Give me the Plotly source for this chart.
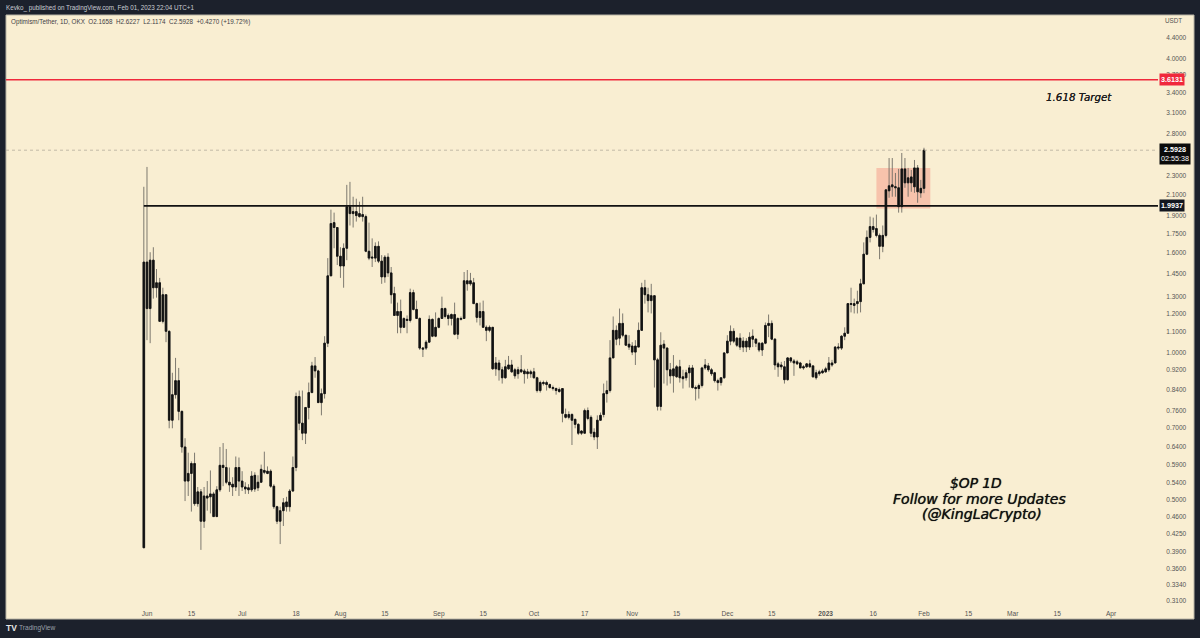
import math
import pandas as pd
import plotly.graph_objects as go

first_day = "2022-05-31"
opens = [.398,1.53,1.229,1.544,1.356,1.388,1.157,1.312,1.104,.726,
 .819,.875,.757,.64,.545,.565,.592,.49,.518,.451,
 .508,.506,.513,.461,.523,.587,.581,.542,.537,.53,
 .581,.545,.53,.528,.523,.56,.542,.542,.573,.565,
 .571,.532,.483,.451,.474,.494,.483,.52,.581,.812,
 .716,.683,.771,.827,.938,.916,.789,.823,1.044,1.434,
 1.843,1.801,1.573,1.502,1.633,1.987,1.923,1.941,1.923,1.914,
 1.896,1.61,1.566,1.559,1.648,1.537,1.427,1.566,1.454,1.319,
 1.19,1.212,1.125,1.168,1.162,1.325,1.224,1.173,1.02,1.02,
 1.049,1.168,1.079,1.125,1.173,1.229,1.19,1.173,1.195,1.089,
 1.173,1.173,1.401,1.381,1.388,1.258,1.179,1.212,1.125,1.109,
 1.125,.925,.951,.921,.887,.925,.942,.921,.904,.921,
 .916,.912,.904,.912,.887,.835,.867,.867,.859,.847,
 .843,.839,.843,.746,.736,.746,.729,.712,.683,.683,
 .76,.736,.686,.671,.726,.746,.823,.835,.974,1.109,
 1.069,1.146,1.084,1.039,1.03,1.001,1.025,1.109,1.356,1.312,
 1.276,1.306,.965,.775,1.039,1.02,.921,.895,.891,.934,
 .891,.887,.908,.929,.847,.843,.855,.929,.938,.921,
 .908,.875,.867,.887,.997,1.054,1.104,1.069,1.025,1.054,
 1.025,1.025,1.064,1.064,1.044,1.011,1.044,1.135,1.146,1.064,
 .947,.942,.934,.879,.974,.96,.956,.951,.934,.934,
 .947,.938,.887,.904,.908,.912,.921,.951,.951,1.025,
 1.02,1.079,1.094,1.258,1.258,1.258,1.27,1.381,1.588,1.719,
 1.809,1.792,1.735,1.648,1.735,2.141,2.202,2.182,2.172,1.987,
 2.374,2.223,2.286,2.182,2.385,2.121,2.1658]
highs = [2.182,2.396,1.603,1.641,1.481,1.42,1.356,1.312,1.109,.908,
 .974,.929,.76,.667,.623,.598,.623,.53,.525,.53,
 .545,.573,.518,.532,.64,.652,.634,.581,.555,.612,
 .609,.571,.542,.537,.571,.568,.56,.589,.626,.584,
 .576,.537,.485,.483,.503,.506,.525,.612,.827,.835,
 .835,.771,.867,.956,.978,.921,.843,1.079,1.559,1.959,
 1.932,1.801,1.641,1.671,2.202,2.233,2.082,2.063,2.034,2.082,
 1.914,1.843,1.711,1.679,1.687,1.581,1.581,1.595,1.495,1.362,
 1.264,1.282,1.179,1.19,1.35,1.343,1.276,1.179,1.025,1.059,
 1.19,1.173,1.207,1.179,1.3,1.235,1.201,1.201,1.264,1.179,
 1.184,1.46,1.474,1.454,1.42,1.264,1.264,1.276,1.135,1.135,
 1.125,.978,.965,.934,.965,.983,.965,.929,.934,.987,
 .925,.925,.921,.929,.891,.875,.875,.875,.863,.855,
 .847,.847,.843,.767,.757,.75,.732,.716,.693,.767,
 .771,.743,.699,.743,.753,.863,.875,1.059,1.184,1.135,
 1.229,1.201,1.084,1.084,1.049,1.059,1.151,1.388,1.407,1.356,
 1.381,1.306,.974,1.099,1.059,1.025,.951,.987,.942,.965,
 .921,.921,.942,.942,.855,.863,.934,.969,.951,.929,
 .912,.883,.887,1.001,1.084,1.135,1.12,1.074,1.094,1.074,
 1.069,1.099,1.114,1.069,1.049,1.049,1.151,1.195,1.162,1.069,
 .956,.956,.96,.978,.978,.969,.965,.956,.942,.951,
 .965,.942,.921,.921,.925,.934,.978,.965,1.03,1.044,
 1.084,1.125,1.258,1.356,1.288,1.337,1.414,1.679,1.776,1.896,
 1.887,1.914,1.751,1.818,2.151,2.499,2.499,2.329,2.374,2.559,
 2.499,2.385,2.362,2.476,2.418,2.254,2.6227]
lows = [.398,1.059,1.044,1.288,1.294,1.157,1.146,1.049,.699,.699,
 .804,.726,.623,.496,.508,.472,.485,.483,.394,.437,
 .474,.468,.461,.461,.518,.532,.537,.518,.508,.52,
 .508,.52,.513,.513,.518,.518,.52,.542,.563,.563,
 .528,.478,.445,.405,.441,.472,.472,.518,.571,.693,
 .661,.649,.729,.827,.887,.789,.743,.804,1.025,1.434,
 1.633,1.509,1.42,1.356,1.544,1.818,1.801,1.852,1.887,1.852,
 1.603,1.544,1.495,1.53,1.523,1.381,1.388,1.427,1.258,1.19,
 1.094,1.094,1.125,1.094,1.151,1.218,1.173,1.011,.978,1.011,
 1.049,1.074,1.074,1.12,1.173,1.173,1.135,1.135,1.084,1.064,
 1.162,1.173,1.337,1.369,1.258,1.151,1.135,1.125,1.054,1.099,
 .921,.895,.875,.863,.883,.921,.908,.883,.883,.908,
 .863,.883,.887,.883,.827,.827,.855,.835,.843,.835,
 .819,.827,.719,.732,.729,.646,.699,.677,.677,.683,
 .726,.671,.661,.634,.726,.736,.789,.827,.974,1.034,
 1.034,1.074,1.034,1.011,.987,.942,1.025,1.109,1.258,1.207,
 1.201,.847,.76,.76,.863,.855,.863,.827,.887,.867,
 .843,.875,.847,.843,.797,.804,.847,.921,.912,.895,
 .867,.835,.855,.883,.997,1.034,1.044,1.025,1.011,1.001,
 1.001,1.011,1.025,1.025,1.001,.983,1.039,1.074,1.059,.921,
 .891,.921,.863,.875,.951,.895,.942,.929,.921,.929,
 .929,.887,.879,.895,.904,.908,.912,.934,.951,1.011,
 1.011,1.059,1.094,1.207,1.201,1.201,1.207,1.381,1.581,1.679,
 1.759,1.719,1.551,1.603,1.719,2.072,2.082,2.082,1.932,1.932,
 2.172,2.082,2.131,2.121,2.024,2.072,2.1174]
closes = [1.53,1.229,1.544,1.356,1.388,1.157,1.312,1.104,.726,.819,
 .875,.757,.64,.545,.565,.592,.49,.518,.451,.508,
 .503,.513,.461,.523,.587,.581,.542,.535,.53,.581,
 .545,.53,.525,.523,.558,.525,.528,.576,.568,.571,
 .532,.483,.451,.474,.492,.483,.52,.581,.812,.716,
 .683,.771,.827,.938,.916,.789,.823,1.044,1.434,1.835,
 1.801,1.573,1.502,1.633,1.987,1.923,1.941,1.905,1.896,1.896,
 1.61,1.559,1.559,1.648,1.537,1.427,1.566,1.454,1.312,1.19,
 1.212,1.125,1.173,1.162,1.325,1.224,1.173,1.02,1.015,1.049,
 1.168,1.079,1.125,1.173,1.229,1.184,1.173,1.195,1.089,1.173,
 1.168,1.401,1.381,1.401,1.258,1.179,1.212,1.125,1.109,1.125,
 .925,.951,.921,.887,.934,.942,.912,.895,.921,.912,
 .904,.904,.912,.887,.835,.867,.863,.859,.847,.843,
 .835,.831,.75,.736,.746,.726,.712,.683,.69,.76,
 .732,.683,.671,.726,.743,.823,.835,.974,1.109,1.064,
 1.146,1.084,1.034,1.025,1.001,1.03,1.109,1.356,1.312,1.276,
 1.306,.965,.775,1.034,1.02,.921,.895,.925,.934,.887,
 .883,.908,.929,.847,.843,.855,.929,.942,.921,.904,
 .875,.867,.887,.997,1.054,1.104,1.054,1.034,1.069,1.025,
 1.054,1.074,1.079,1.044,1.011,1.044,1.135,1.146,1.064,.942,
 .934,.934,.879,.974,.96,.951,.947,.929,.929,.947,
 .934,.891,.908,.912,.916,.925,.951,.942,1.025,1.02,
 1.079,1.094,1.258,1.253,1.247,1.27,1.381,1.588,1.719,1.809,
 1.784,1.735,1.648,1.735,2.151,2.192,2.182,2.172,1.987,2.374,
 2.223,2.276,2.223,2.385,2.131,2.166,2.5928]

target_level = 3.6131
support_level = 1.9937
last_price = 2.5928

y_ticks = [4.4,4.0,3.7,3.4,3.1,2.8,2.3,2.1,1.9,1.75,1.6,1.45,1.3,1.2,1.1,1.0,
           .92,.84,.76,.70,.64,.59,.54,.50,.46,.425,.39,.36,.334,.31]
x_tick_dates = ["2022-06-01","2022-06-15","2022-07-01","2022-07-18","2022-08-01","2022-08-15",
                "2022-09-01","2022-09-15","2022-10-01","2022-10-17","2022-11-01","2022-11-15",
                "2022-12-01","2022-12-15","2023-01-01","2023-01-16","2023-02-01","2023-02-15",
                "2023-03-01","2023-03-15","2023-04-01"]
x_tick_labels = ["Jun","15","Jul","18","Aug","15","Sep","15","Oct","17","Nov","15","Dec","15",
                 "<b>2023</b>","16","Feb","15","Mar","15","Apr"]

dates = pd.date_range(first_day, periods=len(closes), freq="D")
body_tops = [max(o, c) for o, c in zip(opens, closes)]
body_bottoms = [min(o, c) for o, c in zip(opens, closes)]

CREAM = "#f9eed2"
DARK = "#1c212c"
L, R, T, B = 6, 1158, 16, 604   # plot rectangle in page pixels
W, H = 1200, 638
px = lambda v: (v - L) / (R - L)
py = lambda v: (B - v) / (B - T)
x_start, x_end = "2022-04-17 13:00", "2023-04-15 19:00"
TXT = "Liberation Sans"

fig = go.Figure()
# thin grey wicks underneath, solid black bodies on top
fig.add_trace(go.Candlestick(
    x=dates, open=opens, high=highs, low=lows, close=closes,
    increasing=dict(line=dict(color="#6f6c64", width=0.9), fillcolor="#6f6c64"),
    decreasing=dict(line=dict(color="#6f6c64", width=0.9), fillcolor="#6f6c64"),
    whiskerwidth=0, showlegend=False, hoverinfo="skip"))
fig.add_trace(go.Candlestick(
    x=dates, open=body_bottoms, high=body_tops, low=body_bottoms, close=body_tops,
    increasing=dict(line=dict(color="#111111", width=0.8), fillcolor="#111111"),
    decreasing=dict(line=dict(color="#111111", width=0.8), fillcolor="#111111"),
    whiskerwidth=0, showlegend=False, hoverinfo="skip"))
fig.add_trace(go.Scatter(x=[x_start, x_end], y=[last_price]*2, mode="lines",
                         line=dict(color="#aaa594", width=0.7, dash="dot"), showlegend=False, hoverinfo="skip"))
fig.add_trace(go.Scatter(x=[x_start, x_end], y=[target_level]*2, mode="lines",
                         line=dict(color="#f0283c", width=1.6), showlegend=False, hoverinfo="skip"))
fig.add_trace(go.Scatter(x=[dates[0], x_end], y=[support_level]*2, mode="lines",
                         line=dict(color="#111111", width=1.8), showlegend=False, hoverinfo="skip"))

shapes = [
    dict(type="rect", xref="paper", yref="paper", x0=px(6), x1=px(1194), y0=py(619), y1=py(15),
         fillcolor=CREAM, line=dict(color="#b9b5a6", width=1), layer="below"),
    dict(type="rect", xref="x", yref="y", x0="2023-01-17", x1="2023-02-03", y0=1.97, y1=2.385,
         fillcolor="rgba(240,90,80,0.29)", line=dict(width=0), layer="below"),
]

anns = []
def text(s, x, y, size, color, anchor="left", font=TXT, shadow=None):
    f = dict(family=font, size=size, color=color)
    if shadow:
        f["shadow"] = shadow
    anns.append(dict(text=s, x=px(x), y=py(y), xref="paper", yref="paper", xanchor=anchor, yanchor="middle",
                     showarrow=False, font=f))

text("Kevko_ published on TradingView.com, Feb 01, 2023 22:04 UTC+1", 3.5, 8, 6.3, "#c9ccd3")
text("Optimism/Tether, 1D, OKX&nbsp;&nbsp;O2.1658&nbsp;&nbsp;H2.6227&nbsp;&nbsp;L2.1174&nbsp;&nbsp;C2.5928&nbsp;&nbsp;+0.4270 (+19.72%)",
     8.5, 22, 6.3, "#3f4146")
text("USDT", 1162.5, 21, 6.3, "#555555")
text("<b>TV</b>", 3.5, 628, 8.5, "#e6e6e6")
text("TradingView", 16.5, 628, 6.6, "#9aa0ab")
it = "DejaVu Sans"
thick = "0 0 0.7px #111111"
text("<i>1.618 Target</i>", 1079, 97, 10.3, "#1d1d1d", anchor="center", font=it, shadow="0 0 0.5px #1d1d1d")
text("<i>$OP 1D</i>", 976, 483, 13.8, "#111111", anchor="center", font=it, shadow=thick)
text("<i>Follow for more Updates</i>", 979, 499, 14.1, "#111111", anchor="center", font=it, shadow=thick)
text("<i>(@KingLaCrypto)</i>", 981.5, 514, 14.1, "#111111", anchor="center", font=it, shadow=thick)

def tag(s, x0, level, bg):
    anns.append(dict(text=s, x=px(x0), y=math.log10(level), xref="paper", yref="y", xanchor="left", yanchor="middle",
                     showarrow=False, align="center", bgcolor=bg, borderpad=1,
                     font=dict(family=TXT, size=7.2, color="#ffffff")))
tag("<b>3.6131</b>", 1159, target_level, "#f0283c")
tag("<b>1.9937</b>", 1159, support_level, "#12161f")
anns.append(dict(text="<b>2.5928</b><br>02:55:38", x=px(1159), y=py(153.5), xref="paper", yref="paper",
                 xanchor="left", yanchor="middle", showarrow=False, align="center", bgcolor="#0b0b0b", borderpad=1,
                 font=dict(family=TXT, size=7.2, color="#ffffff")))

fig.update_layout(
    width=W, height=H, autosize=False, template=None,
    margin=dict(l=L, r=W - R, t=T, b=H - B, pad=0),
    paper_bgcolor=DARK, plot_bgcolor="rgba(0,0,0,0)",
    shapes=shapes, annotations=anns, showlegend=False,
    font=dict(family=TXT, size=7, color="#555555"),
    xaxis=dict(type="date", range=[x_start, x_end], rangeslider=dict(visible=False),
               tickmode="array", tickvals=x_tick_dates, ticktext=x_tick_labels,
               showgrid=False, zeroline=False, showline=False, ticks="outside", ticklen=3,
               tickcolor="rgba(0,0,0,0)", tickfont=dict(family=TXT, size=6.6, color="#555555")),
    yaxis=dict(type="log", side="right", range=[math.log10(0.3053), math.log10(4.881)],
               tickmode="array", tickvals=y_ticks, ticktext=[f"{v:.4f}" for v in y_ticks],
               showgrid=False, zeroline=False, showline=False, ticks="outside", ticklen=6,
               tickcolor="rgba(0,0,0,0)", tickfont=dict(family=TXT, size=6.5, color="#555555")),
)
fig.write_html("out.html", config=dict(displayModeBar=False),
               post_script="document.body.style.margin='0';document.documentElement.style.overflow='hidden';")
